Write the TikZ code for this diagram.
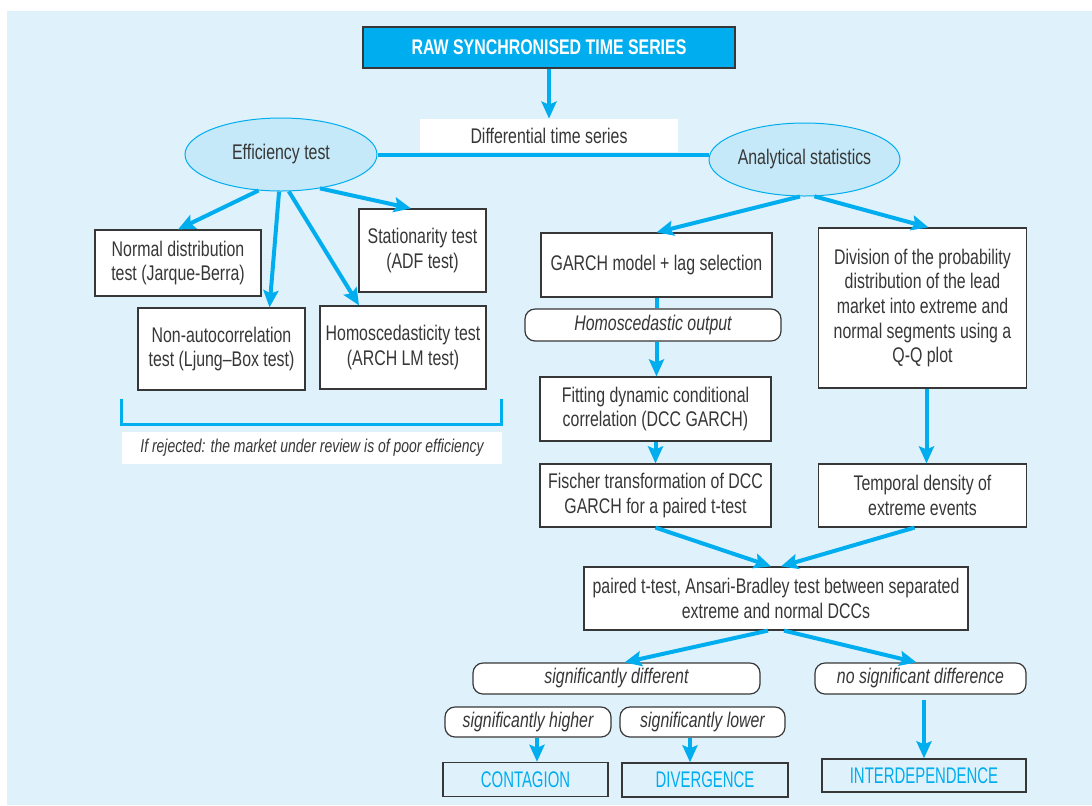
\documentclass[tikz,border=0pt]{standalone}
\usepackage{fontspec}
\setmainfont{Liberation Sans}[FakeStretch=0.75]
\newfontfamily\resultfont{Liberation Sans}[FakeStretch=0.66]
\usetikzlibrary{arrows.meta,shapes.geometric,positioning}
\definecolor{panel}{RGB}{223,241,251}
\definecolor{cyanline}{RGB}{0,174,239}
\definecolor{bubblefill}{RGB}{197,233,248}
\definecolor{ink}{RGB}{55,55,55}
\newcommand{\boxfont}{\fontsize{10.6}{12.3}\selectfont}
\tikzstyle{block} = [draw=ink, fill=white, rectangle, line width=0.6pt, align=center, inner sep=1pt, text=ink, font=\boxfont]
\tikzstyle{tagbox} = [block, rounded corners=5pt, font=\boxfont\itshape]
\tikzstyle{plainbox} = [rectangle, fill=white, align=center, inner sep=1pt, text=ink, font=\boxfont]
\tikzstyle{header} = [block, fill=cyanline, text=white, line width=0.8pt, font=\boxfont\bfseries]
\tikzstyle{bubble} = [ellipse, draw=cyanline, fill=bubblefill, line width=0.5pt, inner sep=0pt, text=ink, font=\boxfont]
\tikzstyle{result} = [rectangle, draw=ink, line width=0.7pt, text=cyanline, inner sep=1pt, font=\resultfont\fontsize{11.3}{13}\selectfont]
\tikzstyle{flow} = [draw=cyanline, line width=2pt]
\tikzstyle{bracket} = [draw=cyanline, line width=1.5pt]

\begin{document}
\begin{tikzpicture}[x=0.5pt, y=-0.5pt, >={Stealth[length=8.5pt,width=7.5pt,inset=1.5pt]}]

\useasboundingbox (0,0) rectangle (1092,805);
\fill [panel] (7,11) rectangle (1092,805);

\node [header, minimum width=186pt, minimum height=20.5pt] (raw) at (549,47.5) {RAW SYNCHRONISED TIME SERIES};
\node [plainbox, below of=raw, node distance=44pt, minimum width=129pt, minimum height=16.5pt] (diff) {Differential time series};

\node [bubble, minimum width=96pt, minimum height=36.5pt] (eff) at (281,154.5) {Efficiency test};
\node [bubble, right of=eff, node distance=261.75pt, yshift=-2.5pt, minimum width=95.5pt, minimum height=36.5pt] (stats) {Analytical statistics};

% efficiency tests
\node [block, below of=eff, node distance=54.25pt, xshift=-51.5pt, minimum width=83pt, minimum height=33pt] (normal) {Normal distribution\\test (Jarque-Berra)};
\node [block, below of=normal, node distance=43pt, xshift=21.75pt, minimum width=83.5pt, minimum height=41pt] (nonauto) {Non-autocorrelation\\test (Ljung--Box test)};
\node [block, below of=eff, node distance=48pt, xshift=70.75pt, minimum width=63.5pt, minimum height=41.5pt] (station) {Stationarity test\\(ADF test)};
\node [block, below of=station, node distance=48.5pt, xshift=-9.75pt, minimum width=83pt, minimum height=41.5pt] (homo) {Homoscedasticity test\\(ARCH LM test)};
\node [plainbox, below of=nonauto, node distance=49.5pt, xshift=45.25pt, minimum width=190pt, minimum height=16pt, font=\fontsize{9.3}{11}\selectfont\itshape] (reject) {If rejected: the market under review is of poor efficiency};
\node [coordinate, above of=reject, node distance=12pt, xshift=-95.25pt] (brl) {};
\node [coordinate, above of=reject, node distance=12pt, xshift=94.5pt] (brr) {};

% analytical statistics
\node [block, below of=stats, node distance=52.75pt, xshift=-74pt, minimum width=115.5pt, minimum height=32pt] (garch) {GARCH model + lag selection};
\node [block, below of=stats, node distance=74.25pt, xshift=59pt, minimum width=104pt, minimum height=80pt] (division) {Division of the probability\\distribution of the lead\\market into extreme and\\normal segments using a\\Q-Q plot};
\node [tagbox, below of=garch, node distance=30pt, xshift=-1.75pt, minimum width=128pt, minimum height=16pt] (hout) {Homoscedastic output};
\node [block, below of=hout, node distance=42pt, xshift=1.25pt, minimum width=115.5pt, minimum height=32pt] (fitting) {Fitting dynamic conditional\\correlation (DCC GARCH)};
\node [block, below of=fitting, node distance=43.25pt, minimum width=115.5pt, minimum height=31.5pt] (fischer) {Fischer transformation of DCC\\GARCH for a paired t-test};
\node [block, below of=division, node distance=93.75pt, minimum width=104pt, minimum height=31.5pt] (temporal) {Temporal density of\\extreme events};
\node [block, below of=fischer, node distance=51.5pt, xshift=60.25pt, minimum width=192pt, minimum height=31.5pt] (paired) {paired t-test, Ansari-Bradley test between separated\\extreme and normal DCCs};

% outcomes
\node [tagbox, below of=paired, node distance=40pt, xshift=-79.75pt, minimum width=143.5pt, minimum height=15.5pt] (sigdiff) {significantly different};
\node [tagbox, below of=paired, node distance=40pt, xshift=72.25pt, minimum width=105.5pt, minimum height=15.5pt] (nosig) {no significant difference};
\node [tagbox, below of=sigdiff, node distance=21.75pt, xshift=-44.25pt, minimum width=83pt, minimum height=15pt] (sighigh) {significantly higher};
\node [tagbox, below of=sigdiff, node distance=21.75pt, xshift=43pt, minimum width=82.5pt, minimum height=15pt] (siglow) {significantly lower};
\node [result, below of=sighigh, node distance=28.75pt, xshift=-1.25pt, minimum width=82.5pt, minimum height=17pt] (contagion) {CONTAGION};
\node [result, below of=siglow, node distance=29pt, xshift=1.25pt, minimum width=83pt, minimum height=17pt] (divergence) {DIVERGENCE};
\node [result, below of=nosig, node distance=48.5pt, xshift=1.75pt, minimum width=102pt, minimum height=16.5pt] (interdep) {INTERDEPENDENCE};

\draw [flow, ->] (raw) -- (diff);
\draw [flow] (eff.east) -- (eff.east -| stats.west);

\draw [flow, ->] (eff.238) -- (normal.north);
\draw [flow, ->] (eff.267) -- ([xshift=24pt]nonauto.north);
\draw [flow, ->] (eff.282) -- ([xshift=-22pt]homo.north);
\draw [flow, ->] (eff.319) -- ([xshift=-5.75pt]station.north);
\draw [bracket] ([yshift=12.5pt]brl) -- (brl) -- (brr) -- ([yshift=12.5pt]brr);

\draw [flow, ->] (stats.263) -- (garch.north);
\draw [flow, ->] (stats.285) -- ([xshift=3pt]division.north);
\draw [flow] (garch.south) -- (garch.south |- hout.north);
\draw [flow, ->] (hout.south -| garch.south) -- (fitting.north -| garch.south);
\draw [flow, ->] (fitting) -- (fischer);
\draw [flow, ->] ([xshift=2pt]division.south) -- ([xshift=2pt]division.south |- temporal.north);
\draw [flow, ->] (fischer.south) -- ([xshift=-2.5pt]paired.north);
\draw [flow, ->] ([xshift=-4pt]temporal.south) -- ([xshift=2.5pt]paired.north);

\draw [flow, ->] ([xshift=-4pt]paired.south) -- ([xshift=4pt]sigdiff.north);
\draw [flow, ->] ([xshift=4pt]paired.south) -- ([xshift=-2pt]nosig.north);
\draw [flow, ->] ([xshift=4.5pt]sighigh.south) -- ([xshift=4.5pt]sighigh.south |- contagion.north);
\draw [flow, ->] ([xshift=-6.25pt]siglow.south) -- ([xshift=-6.25pt]siglow.south |- divergence.north);
\draw [flow, ->] ([xshift=1.75pt, yshift=-2.5pt]nosig.south) -- (interdep.north);

\end{tikzpicture}
\end{document}
